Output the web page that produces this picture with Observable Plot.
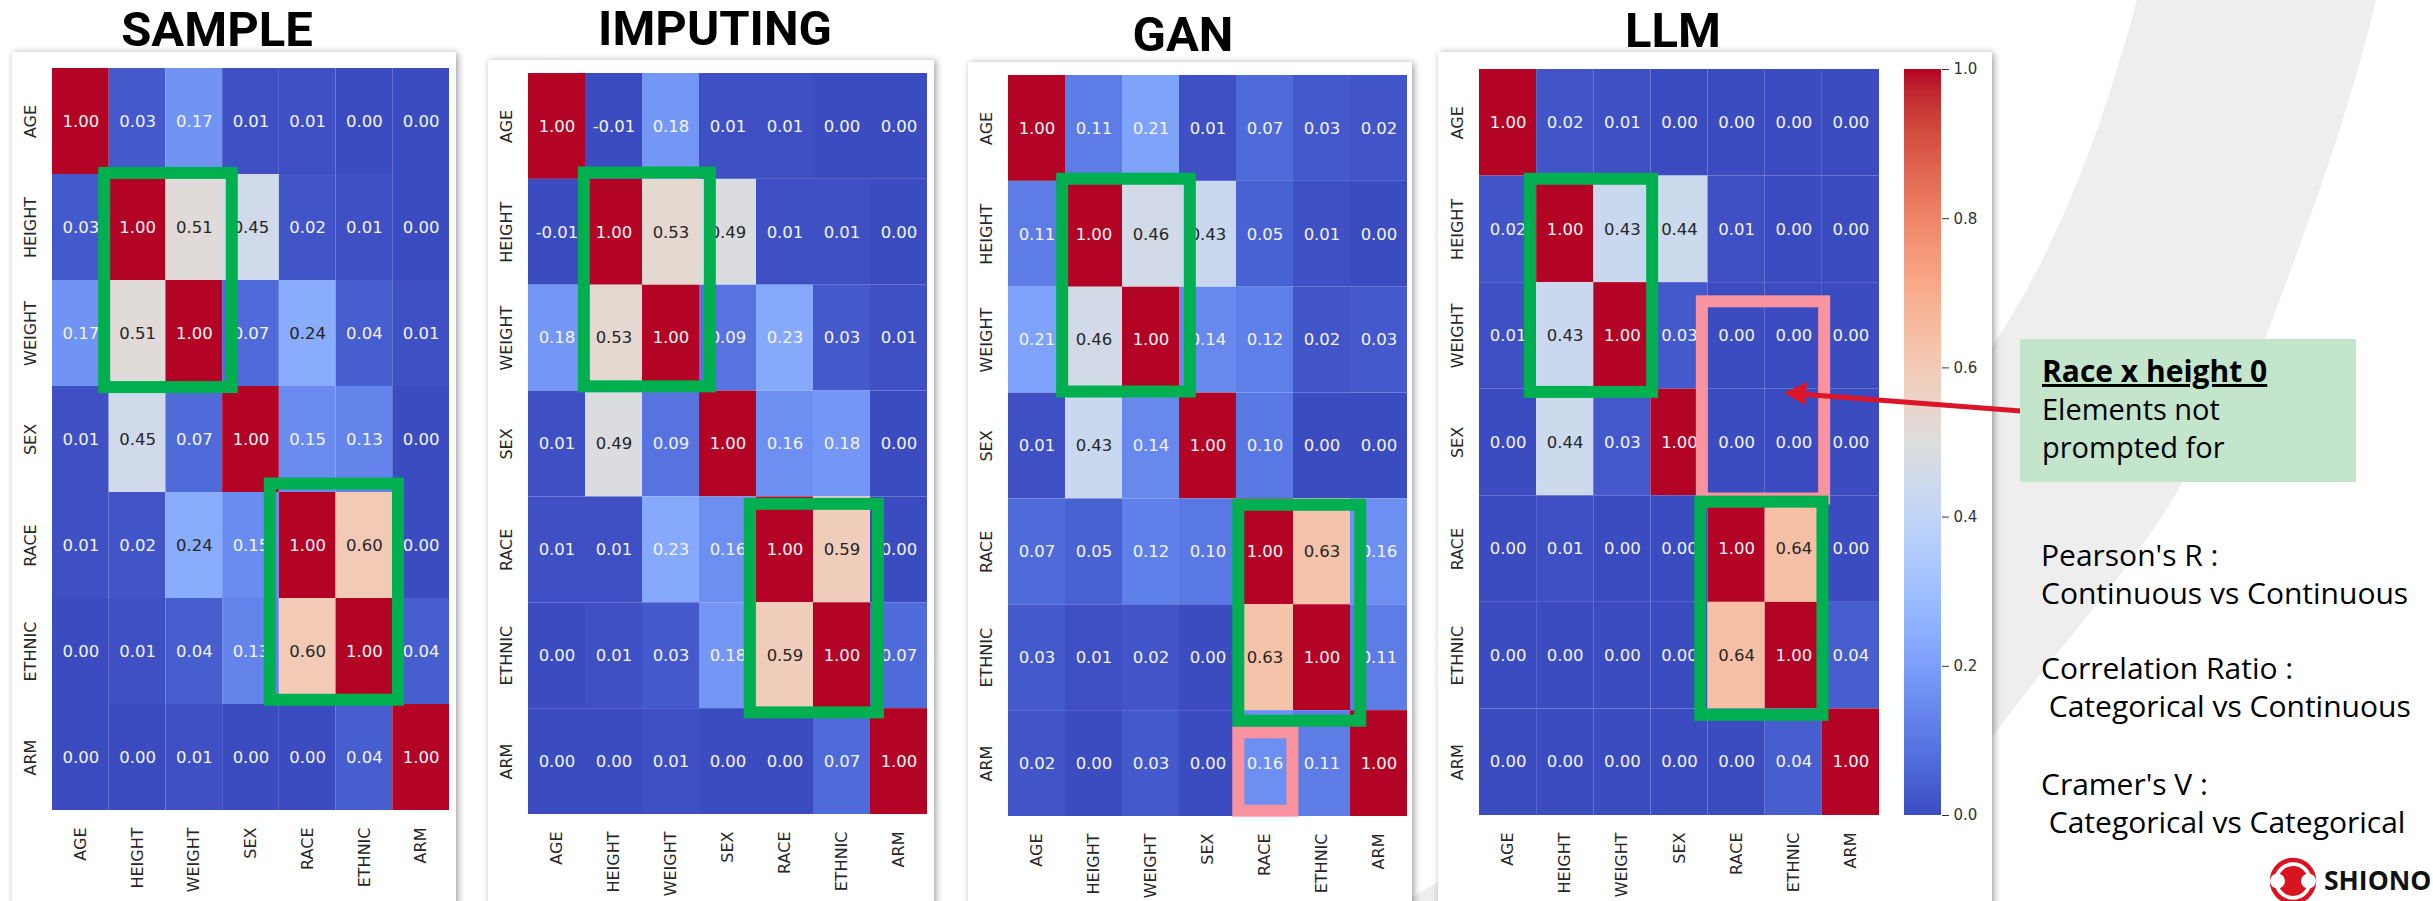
<!DOCTYPE html>
<html><head><meta charset="utf-8">
<script src="https://cdn.jsdelivr.net/npm/d3@7"></script>
<script src="https://cdn.jsdelivr.net/npm/@observablehq/plot@0.6"></script>
<style>
html,body{margin:0;padding:0;background:#fff;}
#page{position:relative;width:2433px;height:901px;overflow:hidden;background:#fff;}
.card{position:absolute;background:#fff;box-shadow:2px 1px 7px rgba(0,0,0,0.38);}
#page svg{position:absolute;overflow:visible;}
.title{position:absolute;width:400px;text-align:center;font-family:Roboto;font-weight:700;font-size:49px;line-height:40px;color:#000;white-space:nowrap;}
</style></head><body><div id="page"></div>
<script>
// ---------- data ----------
const variables = ["AGE","HEIGHT","WEIGHT","SEX","RACE","ETHNIC","ARM"];
const panelTitles = ["SAMPLE","IMPUTING","GAN","LLM"];
const sampleCorr = [
  [1.00,0.03,0.17,0.01,0.01,0.00,0.00],
  [0.03,1.00,0.51,0.45,0.02,0.01,0.00],
  [0.17,0.51,1.00,0.07,0.24,0.04,0.01],
  [0.01,0.45,0.07,1.00,0.15,0.13,0.00],
  [0.01,0.02,0.24,0.15,1.00,0.60,0.00],
  [0.00,0.01,0.04,0.13,0.60,1.00,0.04],
  [0.00,0.00,0.01,0.00,0.00,0.04,1.00]];
const imputingCorr = [
  [1.00,-0.01,0.18,0.01,0.01,0.00,0.00],
  [-0.01,1.00,0.53,0.49,0.01,0.01,0.00],
  [0.18,0.53,1.00,0.09,0.23,0.03,0.01],
  [0.01,0.49,0.09,1.00,0.16,0.18,0.00],
  [0.01,0.01,0.23,0.16,1.00,0.59,0.00],
  [0.00,0.01,0.03,0.18,0.59,1.00,0.07],
  [0.00,0.00,0.01,0.00,0.00,0.07,1.00]];
const ganCorr = [
  [1.00,0.11,0.21,0.01,0.07,0.03,0.02],
  [0.11,1.00,0.46,0.43,0.05,0.01,0.00],
  [0.21,0.46,1.00,0.14,0.12,0.02,0.03],
  [0.01,0.43,0.14,1.00,0.10,0.00,0.00],
  [0.07,0.05,0.12,0.10,1.00,0.63,0.16],
  [0.03,0.01,0.02,0.00,0.63,1.00,0.11],
  [0.02,0.00,0.03,0.00,0.16,0.11,1.00]];
const llmCorr = [
  [1.00,0.02,0.01,0.00,0.00,0.00,0.00],
  [0.02,1.00,0.43,0.44,0.01,0.00,0.00],
  [0.01,0.43,1.00,0.03,0.00,0.00,0.00],
  [0.00,0.44,0.03,1.00,0.00,0.00,0.00],
  [0.00,0.01,0.00,0.00,1.00,0.64,0.00],
  [0.00,0.00,0.00,0.00,0.64,1.00,0.04],
  [0.00,0.00,0.00,0.00,0.00,0.04,1.00]];
// highlighted regions, in cell units (column / row) as hand-drawn on the slide
const greenBoxes = [
  [{x1:0.92,x2:3.17,y1:0.99,y2:3.01},{x1:3.84,x2:6.10,y1:3.92,y2:5.96}],
  [{x1:0.98,x2:3.19,y1:0.94,y2:2.96},{x1:3.89,x2:6.14,y1:4.07,y2:6.04}],
  [{x1:0.95,x2:3.19,y1:0.98,y2:2.99},{x1:4.04,x2:6.18,y1:4.06,y2:6.10}],
  [{x1:0.89,x2:3.03,y1:1.03,y2:3.03},{x1:3.87,x2:6.01,y1:4.06,y2:6.06}]];
const pinkBoxes = [[],[],
  [{x1:4.04,x2:4.99,y1:6.21,y2:6.95}],
  [{x1:3.90,x2:6.04,y1:2.18,y2:4.03}]];
const colorbarTicks = [0,0.2,0.4,0.6,0.8,1.0];
const noteTitle = "Race x height 0";
const noteLines = ["Elements not","prompted for"];
const metricLines = [["Pearson's R :","Continuous vs Continuous"],["Correlation Ratio :"," Categorical vs Continuous"],["Cramer's V :"," Categorical vs Categorical"]];
const logoText = "SHIONO";

// coolwarm colormap stops
const coolwarmStops = ["#3b4cc0","#445acc","#4d68d7","#5775e1","#6282ea","#6c8ef1","#779af7","#82a5fb","#8db0fe","#98b9ff","#a3c2ff","#aec9fd","#b8d0f9","#c2d5f4","#ccd9ee","#d5dbe6","#dddddd","#e5d8d1","#ecd3c5","#f1ccb8","#f5c4ac","#f7bb9f","#f7b193","#f7a686","#f49a7b","#f18d6f","#ec7f63","#e57058","#de604d","#d55042","#cb3e38","#c0282f","#b40426"];
const coolwarm = d3.piecewise(d3.interpolateRgb, coolwarmStops);
const colorScale = {type:"linear", domain:[0,1], interpolate: coolwarm, clamp:true};
function lum(v){
  const c = d3.rgb(coolwarm(Math.max(0,Math.min(1,v))));
  const f = x => { x/=255; return x <= 0.03928 ? x/12.92 : Math.pow((x+0.055)/1.055,2.4); };
  return 0.2126*f(c.r)+0.7152*f(c.g)+0.0722*f(c.b);
}

// ---------- layout ----------
const page = document.getElementById("page");

// background swoosh
const bg = d3.select(page).append("svg").attr("width",2433).attr("height",901).style("left","0px").style("top","0px");
bg.append("path").attr("fill","#eeeeee")
  .attr("d","M2137,0 C2105,120 2060,245 1992,347 C1850,560 1640,770 1405,901 L1869,901 L1992,737 C2080,620 2140,560 2182,483 C2220,420 2245,385 2265,339 C2310,220 2350,110 2376,0 Z");

const cards = [[12,52,444],[488,60,446],[968,62,444],[1438,52,554]];
cards.forEach(([l,t,w]) => {
  const d = document.createElement("div"); d.className="card";
  d.style.left=l+"px"; d.style.top=t+"px"; d.style.width=w+"px"; d.style.height=(920-t)+"px";
  page.appendChild(d);
});

// titles (HTML text)
const titlePos = [[217,47],[715,46],[1183,52],[1673,48]];
panelTitles.forEach((t,i) => {
  const d = document.createElement("div"); d.className = "title";
  d.style.left = (titlePos[i][0]-200)+"px"; d.style.top = (titlePos[i][1]-37)+"px";
  d.textContent = t; page.appendChild(d);
});

const frames = [
  {x0:52,x1:449,y0:68,y1:810},
  {x0:528,x1:927,y0:73,y1:814},
  {x0:1008,x1:1407,y0:75,y1:816},
  {x0:1479,x1:1879,y0:69,y1:815}];
const matrices = [sampleCorr, imputingCorr, ganCorr, llmCorr];
const ticks = variables.map((_, i) => i + 0.5);
const label = d => variables[Math.floor(d)];

matrices.forEach((m, p) => {
  const f = frames[p];
  const cells = m.flatMap((row, r) => row.map((v, c) => ({r, c, v})));
  const ml = 60, mr = 24;
  const svg = Plot.plot({
    width: f.x1 - f.x0 + ml + mr,
    height: 901,
    marginLeft: ml, marginRight: mr, marginTop: f.y0, marginBottom: 901 - f.y1,
    x: {domain: [0, variables.length]},
    y: {domain: [0, variables.length], reverse: true},
    color: colorScale,
    style: {fontFamily: "DejaVu Sans", fontSize: "16px", color: "#262626", background: "transparent", overflow: "visible"},
    marks: [
      Plot.rect(cells, {x1: "c", x2: d => d.c + 1, y1: "r", y2: d => d.r + 1, fill: "v"}),
      Plot.text(cells.filter(d => lum(d.v) > 0.408), {x: d => d.c + 0.5, y: d => d.r + 0.5, text: d => d.v.toFixed(2), fill: "#262626", fontSize: 16.5, fontFamily: "DejaVu Sans"}),
      Plot.text(cells.filter(d => lum(d.v) <= 0.408), {x: d => d.c + 0.5, y: d => d.r + 0.5, text: d => d.v.toFixed(2), fill: "#f4f4f8", fontSize: 16.5, fontFamily: "DejaVu Sans"}),
      Plot.rect(pinkBoxes[p], {x1: "x1", x2: "x2", y1: "y1", y2: "y2", fill: "none", stroke: "#f8939f", strokeWidth: 12}),
      Plot.rect(greenBoxes[p], {x1: "x1", x2: "x2", y1: "y1", y2: "y2", fill: "none", stroke: "#00b050", strokeWidth: 12}),
      Plot.axisX({anchor: "bottom", ticks, tickFormat: label, tickSize: 0, tickPadding: 17, tickRotate: -90, label: null, fontSize: 16}),
      Plot.axisY({anchor: "left", ticks, tickFormat: label, tickSize: 0, tickPadding: 17, tickRotate: -90, label: null, fontSize: 16})
    ]
  });
  svg.style.left = (f.x0 - ml) + "px"; svg.style.top = "0px";
  page.appendChild(svg);
});

// colorbar
{
  const cbL = 1904, cbR = 1941, ml = 32, mr = 60;
  const steps = d3.range(0, 1, 0.004);
  const svg = Plot.plot({
    width: cbR - cbL + ml + mr, height: 901,
    marginLeft: ml, marginRight: mr, marginTop: 69, marginBottom: 901 - 815,
    x: {domain: [0, 1], axis: null},
    y: {domain: [0, 1]},
    color: colorScale,
    style: {fontFamily: "DejaVu Sans", fontSize: "15px", color: "#333", background: "transparent", overflow: "visible"},
    marks: [
      Plot.rect(steps, {x1: 0, x2: 1, y1: d => d, y2: d => Math.min(1, d + 0.006), fill: d => d + 0.002}),
      Plot.axisY({anchor: "right", ticks: colorbarTicks, tickFormat: d3.format(".1f"), tickSize: 7, tickPadding: 5, label: null, fontSize: 15})
    ]
  });
  svg.style.left = (cbL - ml) + "px"; svg.style.top = "0px";
  page.appendChild(svg);
}

// overlay: annotation, notes, logo
const ov = d3.select(page).append("svg").attr("width",2433).attr("height",901).style("left","0px").style("top","0px");
// arrow
ov.append("line").attr("x1",2021).attr("y1",411).attr("x2",1800).attr("y2",394).attr("stroke","#dc1428").attr("stroke-width",5);
ov.append("path").attr("fill","#dc1428").attr("d","M1784,393 L1807,382 L1805,405 Z");
// note box
ov.append("rect").attr("x",2020).attr("y",339).attr("width",336).attr("height",143).attr("fill","#c3e5cc");
ov.append("text").attr("x",2042).attr("y",382).attr("font-family","Open Sans").attr("font-weight",700).attr("font-size",30)
  .attr("text-decoration","underline").attr("fill","#000").text(noteTitle);
noteLines.forEach((t,i) => ov.append("text").attr("x",2042).attr("y",420+i*38).attr("font-family","Open Sans")
  .attr("font-size",29).attr("fill","#000").text(t));
// metric notes
const metricY = [566,679,795];
metricLines.forEach((pair,i) => pair.forEach((t,j) => ov.append("text").attr("x",2041).attr("y",metricY[i]+j*38)
  .attr("font-family","Open Sans").attr("font-size",30).attr("fill","#000").style("white-space","pre").text(t)));
// logo
const lg = ov.append("g").attr("transform","translate(2293,881)");
lg.append("circle").attr("r",21).attr("fill","#fff").attr("stroke","#d7141f").attr("stroke-width",4.5);
lg.append("circle").attr("r",15).attr("fill","#d7141f");
lg.append("circle").attr("cx",-15.5).attr("r",7.5).attr("fill","#fff");
lg.append("circle").attr("cx",15.5).attr("r",7.5).attr("fill","#fff");
ov.append("text").attr("x",2324).attr("y",890).attr("font-family","Open Sans").attr("font-weight",700).attr("font-size",26.5).attr("fill","#111").text(logoText);
</script></body></html>
